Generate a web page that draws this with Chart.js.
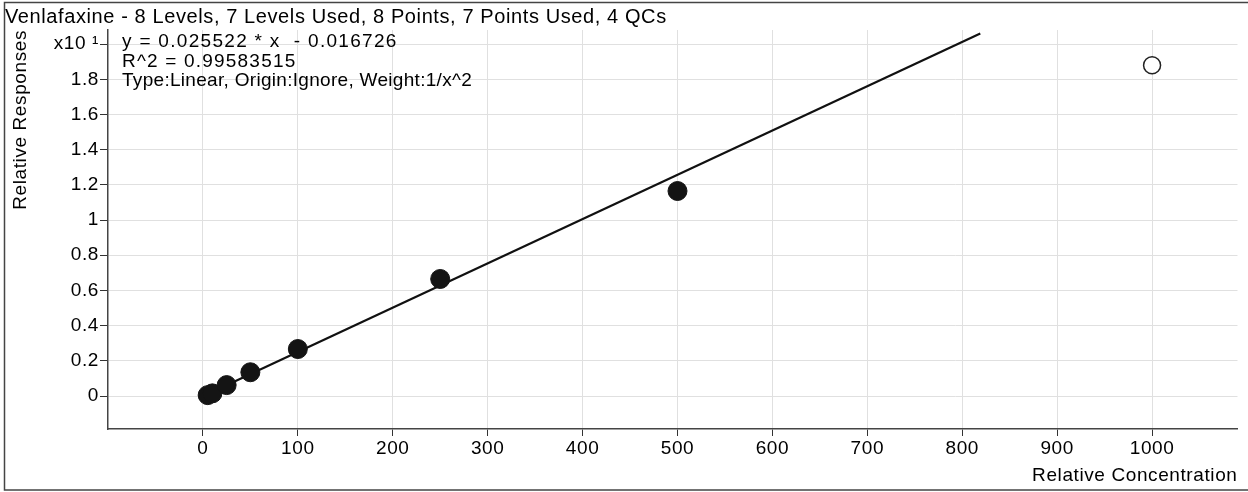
<!DOCTYPE html>
<html>
<head>
<meta charset="utf-8">
<script src="https://cdn.jsdelivr.net/npm/chart.js@4"></script>
<style>
html,body{margin:0;padding:0;background:#fff;}
#wrap{position:relative;width:1248px;height:492px;}
</style>
</head>
<body>
<div id="wrap"><canvas id="c" width="1248" height="492"></canvas></div>
<script>
// Data (y in units of x10)
const titleText = 'Venlafaxine - 8 Levels, 7 Levels Used, 8 Points, 7 Points Used, 4 QCs';
const usedConc = [5, 10, 25, 50, 100, 250, 500];
const usedResp = [0.005, 0.015, 0.062, 0.135, 0.267, 0.665, 1.165];
const excludedConc = [1000];
const excludedResp = [1.88];
const fitLineX = [0, 819];
const fitLineY = [-0.002, 2.06];
const xTicks = [0, 100, 200, 300, 400, 500, 600, 700, 800, 900, 1000];
const yTicks = [0, 0.2, 0.4, 0.6, 0.8, 1, 1.2, 1.4, 1.6, 1.8, 2.0];
const yTickLabels = ['0', '0.2', '0.4', '0.6', '0.8', '1', '1.2', '1.4', '1.6', '1.8', 'x10 \u00B9'];
const annotationLines = ['y = 0.025522 * x  - 0.016726', 'R^2 = 0.99583515', 'Type:Linear, Origin:Ignore, Weight:1/x^2'];

const FONT = '"Liberation Sans", Arial, sans-serif';

const framePlugin = {
  id: 'frame',
  beforeDraw(chart) {
    chart.ctx.letterSpacing = '0.6px';
  },
  afterDraw(chart) {
    const ctx = chart.ctx;
    ctx.save();
    ctx.strokeStyle = '#444';
    ctx.lineWidth = 1.5;
    ctx.strokeRect(4.5, 2.5, 1248, 487.5);
    ctx.fillStyle = '#000';
    ctx.font = '19px ' + FONT;
    ctx.textBaseline = 'middle';
    ctx.textAlign = 'left';
    const ys = [42, 61.5, 81];
    const sp = ['1.3px', '1.2px', '0.3px'];
    annotationLines.forEach((t, i) => { ctx.letterSpacing = sp[i]; ctx.fillText(t, 122, ys[i]); });
    ctx.restore();
  }
};

const ctx = document.getElementById('c').getContext('2d');
new Chart(ctx, {
  type: 'scatter',
  data: {
    datasets: [
      {
        label: 'fit',
        type: 'line',
        data: fitLineX.map((x, i) => ({x, y: fitLineY[i]})),
        borderColor: '#111',
        borderWidth: 2.2,
        pointRadius: 0,
        fill: false,
        order: 2
      },
      {
        label: 'used',
        data: usedConc.map((x, i) => ({x, y: usedResp[i]})),
        backgroundColor: '#141414',
        borderColor: '#141414',
        pointRadius: 9.5,
        pointHoverRadius: 9.5,
        order: 1
      },
      {
        label: 'excluded',
        data: excludedConc.map((x, i) => ({x, y: excludedResp[i]})),
        backgroundColor: '#fff',
        borderColor: '#222',
        borderWidth: 1.5,
        pointRadius: 8.5,
        order: 1
      }
    ]
  },
  options: {
    responsive: false,
    animation: false,
    events: [],
    layout: {padding: {left: 5, right: 6, top: 0, bottom: 0}},
    plugins: {
      legend: {display: false},
      tooltip: {enabled: false},
      title: {
        display: true,
        text: titleText,
        align: 'start',
        color: '#000',
        font: {family: FONT, size: 20, weight: 'normal', lineHeight: 1.2},
        padding: {top: 5, bottom: 1}
      }
    },
    scales: {
      x: {
        type: 'linear',
        min: -100,
        max: 1090,
        afterBuildTicks(scale) { scale.ticks = xTicks.map(v => ({value: v})); },
        afterFit(scale) { scale.height = 63; },
        ticks: {
          color: '#000',
          font: {family: FONT, size: 19},
          padding: 1,
          maxRotation: 0,
          autoSkip: false,
          callback: v => String(v)
        },
        grid: {color: '#e0e0e0', tickColor: '#333', tickLength: 7, lineWidth: 1},
        border: {color: '#444', width: 1.5},
        title: {
          display: true,
          text: 'Relative Concentration',
          align: 'end',
          color: '#000',
          font: {family: FONT, size: 19},
          padding: {top: 0, bottom: 5}
        }
      },
      y: {
        type: 'linear',
        min: -0.1875,
        max: 2.08,
        afterBuildTicks(scale) { scale.ticks = yTicks.map(v => ({value: v})); },
        afterFit(scale) { scale.width = 103; },
        ticks: {
          color: '#000',
          font: {family: FONT, size: 19},
          padding: 1,
          autoSkip: false,
          callback: (v) => {
            const i = yTicks.findIndex(t => Math.abs(t - v) < 1e-9);
            return i >= 0 ? yTickLabels[i] : '';
          }
        },
        grid: {color: '#e0e0e0', tickColor: '#333', tickLength: 8, lineWidth: 1},
        border: {color: '#444', width: 1.5},
        title: {
          display: true,
          text: 'Relative Responses',
          align: 'end',
          color: '#000',
          font: {family: FONT, size: 19},
          padding: {top: 4, bottom: 0}
        }
      }
    }
  },
  plugins: [framePlugin]
});
</script>
</body>
</html>
